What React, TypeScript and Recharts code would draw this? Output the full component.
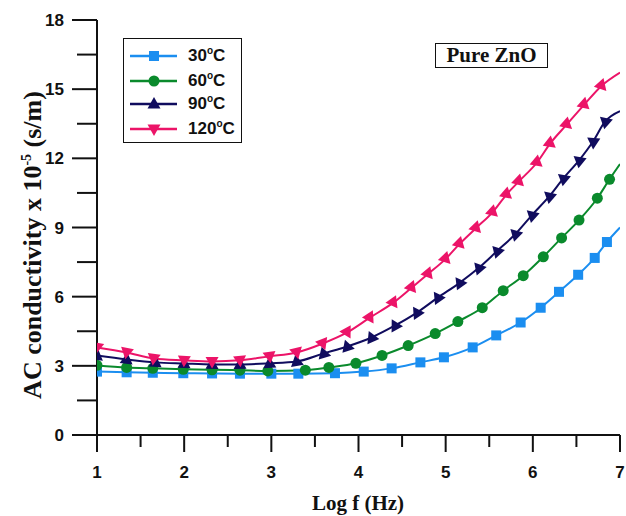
import React from 'react';
import { LineChart, Line, XAxis, YAxis, Legend } from 'recharts';

// log f values where the markers sit (each series was sampled a bit differently)
const logF30 = [1.0, 1.34, 1.64, 1.99, 2.32, 2.64, 3.0, 3.31, 3.73, 4.06, 4.38, 4.71, 4.98, 5.31, 5.58, 5.86, 6.09, 6.3, 6.52, 6.71, 6.85, 7.0];
const sigma30 = [2.75, 2.72, 2.7, 2.68, 2.67, 2.66, 2.66, 2.66, 2.68, 2.75, 2.89, 3.15, 3.37, 3.8, 4.32, 4.88, 5.52, 6.21, 6.95, 7.68, 8.37, 9.0];

const logF60 = [1.0, 1.34, 1.64, 1.99, 2.32, 2.64, 2.96, 3.39, 3.66, 3.97, 4.27, 4.57, 4.88, 5.14, 5.42, 5.66, 5.89, 6.12, 6.33, 6.53, 6.74, 6.88, 7.0];
const sigma60 = [3.02, 2.93, 2.89, 2.85, 2.83, 2.81, 2.78, 2.81, 2.93, 3.11, 3.45, 3.88, 4.4, 4.92, 5.52, 6.26, 6.91, 7.73, 8.55, 9.32, 10.27, 11.09, 11.75];

const logF90 = [1.0, 1.34, 1.67, 2.0, 2.32, 2.64, 2.98, 3.29, 3.6, 3.87, 4.15, 4.42, 4.67, 4.91, 5.16, 5.38, 5.59, 5.8, 5.99, 6.19, 6.35, 6.53, 6.69, 6.83, 7.0];
const sigma90 = [3.45, 3.28, 3.15, 3.1, 3.06, 3.06, 3.11, 3.19, 3.54, 3.84, 4.23, 4.75, 5.31, 5.96, 6.6, 7.25, 7.98, 8.72, 9.54, 10.36, 11.13, 11.91, 12.73, 13.6, 14.05];

const logF120 = [1.0, 1.34, 1.65, 2.0, 2.32, 2.64, 2.98, 3.29, 3.59, 3.87, 4.13, 4.4, 4.61, 4.8, 5.0, 5.16, 5.35, 5.54, 5.7, 5.84, 6.05, 6.2, 6.39, 6.59, 6.79, 7.0];
const sigma120 = [3.8, 3.58, 3.32, 3.24, 3.19, 3.24, 3.41, 3.58, 3.97, 4.45, 5.09, 5.74, 6.39, 6.99, 7.64, 8.29, 8.98, 9.67, 10.44, 11.0, 11.83, 12.65, 13.47, 14.33, 15.15, 15.72];

const xTicks = [1, 1.5, 2, 2.5, 3, 3.5, 4, 4.5, 5, 5.5, 6, 6.5, 7];
const yTicks = [0, 1.5, 3, 4.5, 6, 7.5, 9, 10.5, 12, 13.5, 15, 16.5, 18];

const zip = (xs: number[], ys: number[]) => xs.map((x, i) => ({ x, y: ys[i] }));

const AXIS = '#111';
const SANS = '"Liberation Sans", Arial, sans-serif';
const SERIF = '"Liberation Serif", "Times New Roman", serif';

type Shape = 'square' | 'circle' | 'up' | 'down';

const series = [
  { temp: '30', data: zip(logF30, sigma30), color: '#1b8ef0', shape: 'square' as Shape },
  { temp: '60', data: zip(logF60, sigma60), color: '#0a8a2c', shape: 'circle' as Shape },
  { temp: '90', data: zip(logF90, sigma90), color: '#100c5e', shape: 'up' as Shape },
  { temp: '120', data: zip(logF120, sigma120), color: '#ec1468', shape: 'down' as Shape },
];

const marker = (shape: Shape, cx: number, cy: number, color: string, ang = 0) => {
  if (shape === 'square') return <rect x={cx - 5} y={cy - 5} width={10} height={10} fill={color} />;
  if (shape === 'circle') return <circle cx={cx} cy={cy} r={5.5} fill={color} />;
  const d = shape === 'up'
    ? `M${cx},${cy - 7} L${cx + 6.5},${cy + 4.5} L${cx - 6.5},${cy + 4.5} Z`
    : `M${cx},${cy + 7} L${cx + 6.5},${cy - 4.5} L${cx - 6.5},${cy - 4.5} Z`;
  return <path d={d} fill={color} transform={`rotate(${ang} ${cx} ${cy})`} />;
};

// markers follow the local slope of the curve, like in the original plot
const makeDot = (shape: Shape, color: string) => (props: any) => {
  const { cx, cy, index, points, payload } = props;
  if (cx == null || cy == null || payload?.x >= 7) return <g key={`d-${index}`} />;
  let ang = 0;
  if (points && points.length > 1) {
    const a = points[Math.max(0, index - 1)];
    const b = points[Math.min(points.length - 1, index + 1)];
    ang = (Math.atan2(b.y - a.y, b.x - a.x) * 180) / Math.PI;
  }
  return <g key={`d-${index}`}>{marker(shape, cx, cy, color, ang)}</g>;
};

const XTick = ({ x, y, payload }: any) => {
  const major = Number.isInteger(payload.value);
  return (
    <g>
      <line x1={x} y1={y} x2={x} y2={y + (major ? 17 : 12)} stroke={AXIS} strokeWidth={2} />
      {major && (
        <text x={x} y={y + 43} textAnchor="middle" fontFamily={SANS} fontWeight="bold" fontSize={17} fill="#111">
          {payload.value}
        </text>
      )}
    </g>
  );
};

const YTick = ({ x, y, payload }: any) => {
  const major = payload.value % 3 === 0;
  return (
    <g>
      <line x1={x} y1={y} x2={x - (major ? 25 : 20)} y2={y} stroke={AXIS} strokeWidth={2} />
      {major && (
        <text x={x - 33} y={y + 6} textAnchor="end" fontFamily={SANS} fontWeight="bold" fontSize={17} fill="#111">
          {payload.value}
        </text>
      )}
    </g>
  );
};

const YLabel = () => (
  <text
    x={41}
    y={245}
    transform="rotate(-90 41 245)"
    textAnchor="middle"
    fontFamily={SERIF}
    fontWeight="bold"
    fontSize={26}
    fill="#111"
  >
    AC conductivity x 10
    <tspan dy={-10} fontSize={14}>-5</tspan>
    <tspan dy={10}> (s/m)</tspan>
  </text>
);

const XLabel = () => (
  <text x={358} y={510} textAnchor="middle" fontFamily={SERIF} fontWeight="bold" fontSize={21} fill="#111">
    Log f (Hz)
  </text>
);

const LegendBox = () => (
  <div
    style={{
      width: 119,
      height: 105,
      boxSizing: 'border-box',
      border: `1.5px solid ${AXIS}`,
      background: '#fff',
      position: 'relative',
    }}
  >
    {series.map((s, i) => {
      const cy = [17, 42, 65, 90][i];
      return (
        <div key={s.temp} style={{ position: 'absolute', left: 0, top: cy - 12, height: 24, width: 117 }}>
          <svg width={60} height={24} style={{ position: 'absolute', left: 0, top: 0 }}>
            <line x1={6} y1={12} x2={53} y2={12} stroke={s.color} strokeWidth={2.5} />
            {marker(s.shape, 30, 12, s.color)}
          </svg>
          <span
            style={{
              position: 'absolute',
              left: 64,
              top: 2,
              fontFamily: SANS,
              fontWeight: 'bold',
              fontSize: 17,
              lineHeight: '20px',
              color: '#111',
              whiteSpace: 'nowrap',
            }}
          >
            {s.temp}
            <span style={{ fontSize: 10, position: 'relative', top: -7 }}>o</span>C
          </span>
        </div>
      );
    })}
  </div>
);

export default function App() {
  return (
    <div style={{ position: 'absolute', left: 0, top: 0, width: 626, height: 516, background: '#fff' }}>
      <LineChart width={626} height={516} margin={{ top: 20, right: 6, left: 0, bottom: 0 }}>
        <XAxis
          dataKey="x"
          type="number"
          domain={[1, 7]}
          ticks={xTicks}
          interval={0}
          height={81}
          tickSize={0}
          tickMargin={0}
          tickLine={false}
          tick={<XTick />}
          axisLine={{ stroke: AXIS, strokeWidth: 2 }}
          allowDataOverflow
          label={<XLabel />}
        />
        <XAxis
          xAxisId="top"
          orientation="top"
          type="number"
          domain={[1, 7]}
          height={0}
          tick={false}
          tickLine={false}
          axisLine={{ stroke: AXIS, strokeWidth: 2 }}
        />
        <YAxis
          type="number"
          domain={[0, 18]}
          ticks={yTicks}
          interval={0}
          width={97}
          tickSize={0}
          tickMargin={0}
          tickLine={false}
          tick={<YTick />}
          axisLine={{ stroke: AXIS, strokeWidth: 2 }}
          allowDataOverflow
          label={<YLabel />}
        />
        <YAxis
          yAxisId="right"
          orientation="right"
          type="number"
          domain={[0, 18]}
          width={0}
          tick={false}
          tickLine={false}
          axisLine={{ stroke: AXIS, strokeWidth: 2 }}
        />
        <Legend
          layout="vertical"
          align="center"
          verticalAlign="middle"
          content={<LegendBox />}
          wrapperStyle={{ position: 'absolute', left: 123, top: 38, width: 119, height: 105 }}
        />
        {series.map((s) => (
          <Line
            key={s.temp}
            data={s.data}
            dataKey="y"
            name={`${s.temp}°C`}
            type="monotone"
            stroke={s.color}
            strokeWidth={2}
            dot={makeDot(s.shape, s.color)}
            activeDot={false}
            isAnimationActive={false}
          />
        ))}
      </LineChart>
      <div
        style={{
          position: 'absolute',
          left: 435,
          top: 43,
          width: 113,
          height: 25,
          boxSizing: 'border-box',
          border: `1.5px solid ${AXIS}`,
          background: '#fff',
          fontFamily: SERIF,
          fontWeight: 'bold',
          fontSize: 21,
          lineHeight: '22px',
          textAlign: 'center',
          color: '#111',
        }}
      >
        Pure ZnO
      </div>
    </div>
  );
}
